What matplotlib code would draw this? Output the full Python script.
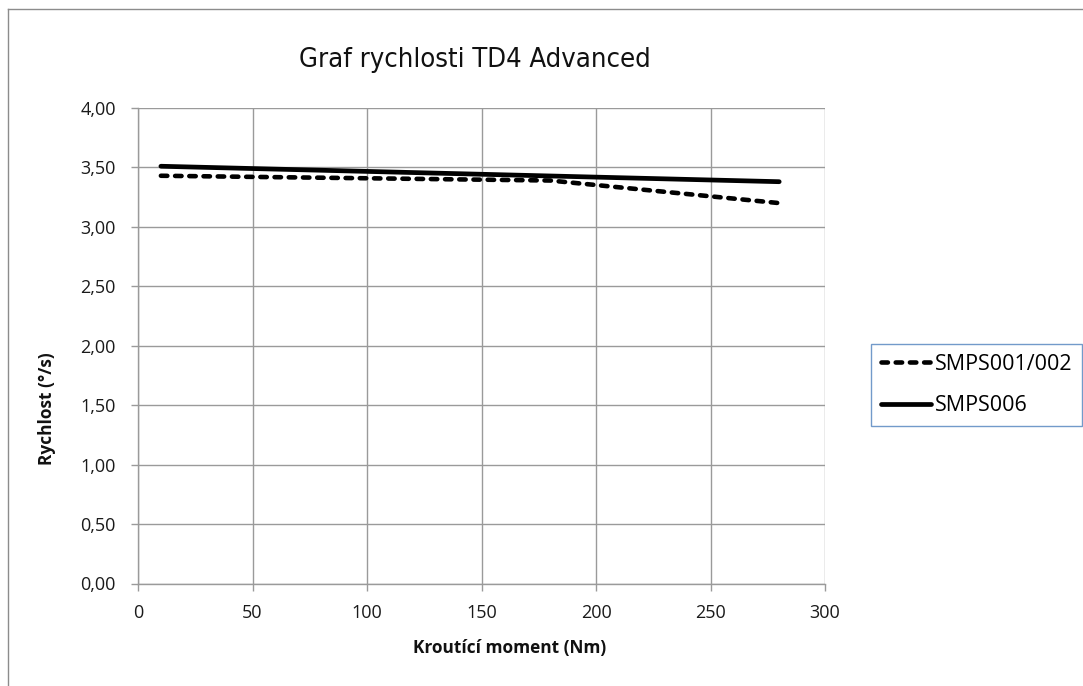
import matplotlib
matplotlib.use("Agg")
import matplotlib.pyplot as plt
from matplotlib.lines import Line2D
from matplotlib import font_manager as fm

# Data
title = "Graf rychlosti TD4 Advanced"
x_label = "Kroutící moment (Nm)"
y_label = "Rychlost (°/s)"
series_names = ["SMPS001/002", "SMPS006"]
x_smps001 = [10, 180, 280]
y_smps001 = [3.43, 3.39, 3.20]
x_smps006 = [10, 280]
y_smps006 = [3.51, 3.38]
x_ticks = [0, 50, 100, 150, 200, 250, 300]
y_ticks = [0.0, 0.5, 1.0, 1.5, 2.0, 2.5, 3.0, 3.5, 4.0]

plt.rcParams['font.family'] = ['Open Sans', 'DejaVu Sans']


def find_condensed():
    prefs = ["LiberationSansNarrow-Regular", "NotoSans-Condensed.", "NotoSans-SemiCondensed.",
             "DejaVuSansCondensed.", "OpenSans-Condensed", "OpenSans_Condensed",
             "Roboto-Condensed", "RobotoCondensed-Regular"]
    files = [f.fname for f in fm.fontManager.ttflist]
    for p in prefs:
        for fn in files:
            if p in fn.split("/")[-1]:
                return fm.FontProperties(fname=fn)
    for f in fm.fontManager.ttflist:
        if f.stretch in ("condensed", "semi-condensed") and f.weight in (400, "normal") and f.style == "normal":
            return fm.FontProperties(fname=f.fname)
    return fm.FontProperties(family="DejaVu Sans")


cond_fp = find_condensed()

W, H = 1083, 686
fig = plt.figure(figsize=(W / 100, H / 100), dpi=100)
fig.patch.set_facecolor("white")
r = fig.canvas.get_renderer()


def fx(px):
    return px / W


def fy(py):
    return 1 - py / H


# outer chart frame (left & top visible)
frame_col = "#8c8c8c"
fig.add_artist(Line2D([fx(7.5), fx(7.5)], [0, fy(9)], color=frame_col, lw=1.0, transform=fig.transFigure))
fig.add_artist(Line2D([fx(7.5), 1], [fy(9), fy(9)], color=frame_col, lw=1.0, transform=fig.transFigure))

ax_l, ax_r = 138, 825
ax_t, ax_b = 108, 583.5
ax = fig.add_axes([fx(ax_l), fy(ax_b), (ax_r - ax_l) / W, (ax_b - ax_t) / H])

grid_col = "#9a9a9a"
ax.set_xlim(0, 300)
ax.set_ylim(0, 4)
ax.set_xticks(x_ticks)
ax.set_yticks(y_ticks)
ax.set_xticklabels([str(v) for v in x_ticks])
ax.set_yticklabels([f"{v:.2f}".replace(".", ",") for v in y_ticks])
ax.grid(True, color=grid_col, lw=1.0)
ax.set_axisbelow(True)
for s in ["top", "right"]:
    ax.spines[s].set_visible(False)
for s in ["left", "bottom"]:
    ax.spines[s].set_color(grid_col)
    ax.spines[s].set_linewidth(1.0)
ax.tick_params(axis="both", direction="out", length=5, width=1.0, color=grid_col,
               labelsize=13, labelcolor="#1a1a1a")
ax.tick_params(axis="y", pad=11)
ax.tick_params(axis="x", pad=10)

l1, = ax.plot(x_smps001, y_smps001, color="black", lw=3.3,
              linestyle=(0, (1.4, 1.7)), dash_capstyle="round", solid_capstyle="round",
              label=series_names[0])
l2, = ax.plot(x_smps006, y_smps006, color="black", lw=3.4, solid_capstyle="round",
              label=series_names[1])

# title, fitted to the reference width (~352 px)
t = fig.text(fx(475), fy(60), title, ha="center", va="center",
             fontproperties=cond_fp, fontsize=22, color="#111111")
w = t.get_window_extent(r).width
if w > 0:
    t.set_fontsize(22 * 352 / w)

# axis titles
xl = fig.text(fx(510), fy(648), x_label, ha="center", va="center",
              fontsize=12, fontweight="bold", color="#111111")
w = xl.get_window_extent(r).width
lab_fs = 12 * 192 / w if w > 0 else 12
xl.set_fontsize(lab_fs)
fig.text(fx(47), fy(352), y_label, ha="center", va="top", rotation=90,
         fontsize=lab_fs, fontweight="bold", color="#111111")

leg = fig.legend(handles=[l1, l2], loc="upper left",
                 bbox_to_anchor=(fx(871), fy(344)), bbox_transform=fig.transFigure,
                 frameon=True, fancybox=False, fontsize=15.5, handlelength=2.35,
                 handletextpad=0.15, labelspacing=0.95, borderpad=0.45,
                 borderaxespad=0)
leg.get_frame().set_edgecolor("#4f81bd")
leg.get_frame().set_linewidth(1.0)

fig.savefig("out.png", dpi=100, facecolor="white")
